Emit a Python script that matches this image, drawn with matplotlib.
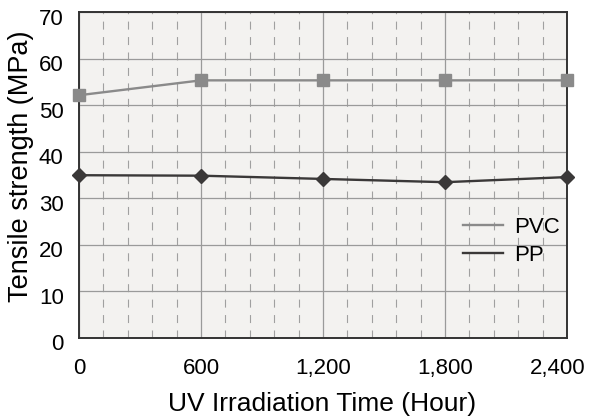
import numpy as np
import matplotlib
matplotlib.use('Agg')
import matplotlib.pyplot as plt
import matplotlib.transforms as mtransforms
from matplotlib.lines import Line2D
from matplotlib.ticker import MultipleLocator, FuncFormatter

plt.rcParams['font.family'] = ['Liberation Sans', 'DejaVu Sans']

# ==================== DATA ====================
hours = [0, 600, 1200, 1800, 2400]
pvc_strength = [52.1, 55.3, 55.3, 55.3, 55.3]
pp_strength = [34.9, 34.8, 34.1, 33.4, 34.5]
series_names = ['PVC', 'PP']

PVC_COLOR = '#8a8a8a'
PP_COLOR = '#3a3838'

W, H = 591, 418
fig = plt.figure(figsize=(W / 100, H / 100), dpi=100)
# axes box in pixels: x 79..567, y 12..337.5
ax = fig.add_axes([79 / W, 1 - 337.5 / H, (567 - 79) / W, (337.5 - 12) / H])
ax.set_facecolor('#f3f2f0')

ax.plot(hours, pvc_strength, color=PVC_COLOR, lw=1.7, marker='s', ms=8.3,
        clip_on=False, zorder=4)
ax.plot(hours, pp_strength, color=PP_COLOR, lw=1.7, marker='D', ms=6.7,
        clip_on=False, zorder=4)

ax.set_xlim(0, 2400)
ax.set_ylim(0, 70)
ax.xaxis.set_major_locator(MultipleLocator(600))
ax.xaxis.set_minor_locator(MultipleLocator(120))
ax.yaxis.set_major_locator(MultipleLocator(10))
ax.xaxis.set_major_formatter(FuncFormatter(lambda v, p: f'{int(v):,}'))

ax.grid(which='major', color='#9a9a9a', lw=0.9, ls='-', zorder=1)
ax.grid(which='minor', axis='x', color='#a0a0a0', lw=0.8, ls=(0, (7.2, 6.7)), zorder=1)
ax.set_axisbelow(True)

ax.tick_params(which='both', length=0)
ax.tick_params(axis='x', pad=14.5, labelsize=16)
ax.tick_params(axis='y', pad=11, labelsize=16)

for s in ax.spines.values():
    s.set_color('#333333')
    s.set_linewidth(1.4)

fig.text(322.5 / W, 1 - 404 / H, 'UV Irradiation Time (Hour)', fontsize=19,
         ha='center', va='center')
fig.text(21 / W, 1 - 166.5 / H, 'Tensile strength (MPa)', fontsize=19.5,
         rotation=90, ha='center', va='center')

handles = [Line2D([], [], color=PVC_COLOR, lw=1.7),
           Line2D([], [], color=PP_COLOR, lw=1.7)]
fig.legend(handles, series_names, loc='center left',
           bbox_to_anchor=(463 / W, 1 - 241.5 / H), borderaxespad=0, borderpad=0,
           frameon=False, fontsize=16, handlelength=1.8, handletextpad=0.5,
           labelspacing=0.3)

# nudge tick labels the way the original layout has them
fig.canvas.draw()
down = mtransforms.ScaledTranslation(0, -3.5 / 72, fig.dpi_scale_trans)
for tick in ax.yaxis.get_major_ticks():
    tick.label1.set_transform(tick.label1.get_transform() + down)
left = mtransforms.ScaledTranslation(-6.5 / 72, 0, fig.dpi_scale_trans)
for tick in ax.xaxis.get_major_ticks():
    if abs(tick.get_loc() - 2400) < 1:
        tick.label1.set_transform(tick.label1.get_transform() + left)

fig.savefig('out.png', dpi=100)
